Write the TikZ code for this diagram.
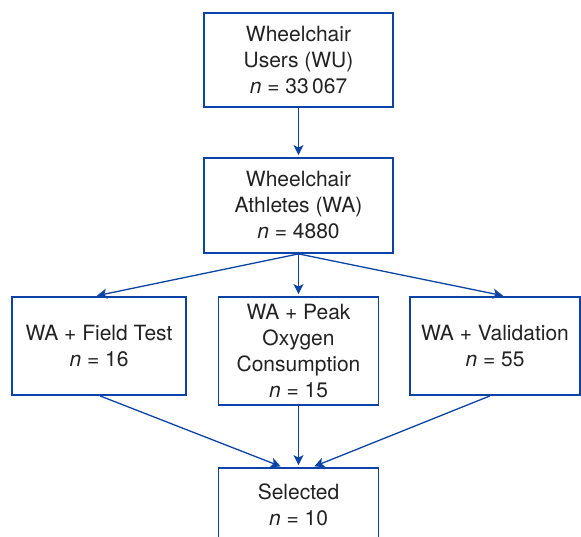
\documentclass[tikz,border=0pt]{standalone}
\usepackage{fontspec}
\setmainfont{TeX Gyre Heros}
\usetikzlibrary{arrows.meta}
\definecolor{boxblue}{HTML}{0B43A8}
\definecolor{txt}{HTML}{222222}
\tikzset{
  flowbox/.style={draw=boxblue, line width=1.8pt, align=center, text=txt,
    font=\fontsize{21}{26}\selectfont, inner sep=0pt},
  flowarrow/.style={draw=boxblue, line width=1.3pt,
    -{Stealth[length=10pt,width=10pt,inset=2.5pt]}, shorten >=2pt}
}
\begin{document}
\begin{tikzpicture}[x=1pt,y=-1pt]
\useasboundingbox (0,0) rectangle (581,537);
\node[flowbox, minimum width=189pt, minimum height=94pt] (wu) at (298.5,60)
  {Wheelchair\\Users (WU)\\\textit{n} = 33\,067};
\node[flowbox, minimum width=189pt, minimum height=95pt] (wa) at (298.5,205.5)
  {Wheelchair\\Athletes (WA)\\\textit{n} = 4880};
\node[flowbox, minimum width=174pt, minimum height=98pt] (ft) at (99,346)
  {WA + Field Test\\\textit{n} = 16};
\node[flowbox, minimum width=160pt, minimum height=108pt] (po) at (298.5,351)
  {WA + Peak\\Oxygen\\Consumption\\\textit{n} = 15};
\node[flowbox, minimum width=170pt, minimum height=98pt] (va) at (495,346)
  {WA + Validation\\\textit{n} = 55};
\node[flowbox, minimum width=160pt, minimum height=74pt] (se) at (298.5,505)
  {Selected\\\textit{n} = 10};
\draw[flowarrow] (wu.south) -- (wa.north);
\draw[flowarrow] (wa.south) -- ([xshift=-4pt]ft.north);
\draw[flowarrow] (wa.south) -- (po.north);
\draw[flowarrow] (wa.south) -- ([xshift=10pt]va.north);
\draw[flowarrow] ([xshift=1pt]ft.south) -- ([xshift=-16pt]se.north);
\draw[flowarrow] (po.south) -- (se.north);
\draw[flowarrow] ([xshift=-5pt]va.south) -- ([xshift=14pt]se.north);
\end{tikzpicture}
\end{document}
